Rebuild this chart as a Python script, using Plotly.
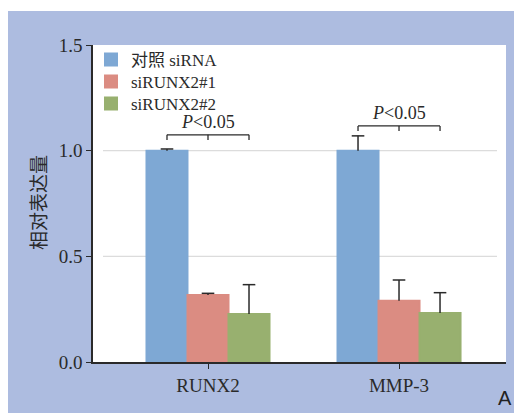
import plotly.graph_objects as go

categories = ["RUNX2", "MMP-3"]
series_names = ["对照 siRNA", "siRUNX2#1", "siRUNX2#2"]
series_values = [
    [1.0, 1.0],
    [0.317, 0.29],
    [0.227, 0.232],
]
series_err = [
    [0.008, 0.07],
    [0.008, 0.098],
    [0.139, 0.096],
]
series_colors = ["#7ea8d4", "#db8c82", "#98b06f"]
y_ticks = [0.0, 0.5, 1.0, 1.5]
sig_text = "<i>P</i>&lt;0.05"
bracket_y = [1.075, 1.117]

# page has an 8px body margin; work in page pixels, convert to figure pixels
OFF = 8
W, H = 522 - 2 * OFF, 415 - OFF
L, T = 93 - OFF, 45 - OFF
R, B = W - (506 - OFF), H - (362 - OFF)
pw, ph = W - L - R, H - T - B

def px_x(p):
    return (p - OFF - L) / pw

def px_y(p):
    return (H - B - (p - OFF)) / ph

bargap = 0.356
bar_w = (1 - bargap) / 3

legend_names = ["legend", "legend2", "legend3"]
legend_rows = [60, 82, 104]

fig = go.Figure()
for k, (name, vals, errs, col, lg) in enumerate(zip(series_names, series_values, series_err,
                                                     series_colors, legend_names)):
    fig.add_trace(go.Bar(
        x=list(range(len(categories))), y=vals, name=name, legend=lg,
        marker=dict(color=col, line=dict(width=2, color=col)),
        error_y=dict(type="data", array=errs, arrayminus=[0] * len(errs),
                     symmetric=False, color="#2a2a2a", thickness=1.5, width=0),
    ))
    # upper caps of the error bars
    xs = [i + (k - 1) * bar_w for i in range(len(categories))]
    fig.add_trace(go.Scatter(
        x=xs, y=[v + e for v, e in zip(vals, errs)], mode="markers", showlegend=False,
        hoverinfo="skip",
        marker=dict(symbol="line-ew", size=9, line=dict(color="#2a2a2a", width=1.5)),
    ))

shapes = [
    dict(type="rect", xref="paper", yref="paper", x0=px_x(8), x1=px_x(540),
         y0=px_y(413), y1=px_y(11), fillcolor="#adbce0", line=dict(width=0), layer="below"),
    dict(type="rect", xref="paper", yref="paper", x0=0, x1=1, y0=0, y1=1,
         fillcolor="white", line=dict(width=0), layer="below"),
]
for g in [0.5, 1.0]:
    shapes.append(dict(type="line", xref="paper", yref="y", x0=px_x(103), x1=px_x(497),
                       y0=g, y1=g, line=dict(color="#dcdcdc", width=1.2), layer="below"))

annotations = []
for i, by in enumerate(bracket_y):
    xl, xc, xr = i - bar_w, i, i + bar_w
    tick = 0.024
    shapes.append(dict(type="line", xref="x", yref="y", x0=xl, x1=xr, y0=by, y1=by,
                       line=dict(color="#2a2a2a", width=1.3)))
    for xx in (xl, xc, xr):
        shapes.append(dict(type="line", xref="x", yref="y", x0=xx, x1=xx, y0=by, y1=by - tick,
                           line=dict(color="#2a2a2a", width=1.3)))
    annotations.append(dict(x=xc, y=by, xref="x", yref="y", text=sig_text, showarrow=False,
                            yanchor="bottom", yshift=1,
                            font=dict(family="Liberation Serif", size=18, color="#2a2a2a")))

annotations.append(dict(x=px_x(37), y=px_y(203), xref="paper", yref="paper", text="相对表达量",
                        textangle=-90, showarrow=False, xanchor="center", yanchor="middle",
                        font=dict(family="Noto Sans CJK SC", size=19, color="#2a2a2a")))
annotations.append(dict(x=px_x(514), y=px_y(411), xref="paper", yref="paper", text="A",
                        showarrow=False, xanchor="right", yanchor="bottom",
                        font=dict(family="Liberation Sans", size=20, color="#222222")))

legend_font = dict(family="Liberation Serif, Noto Sans CJK SC", size=17, color="#2a2a2a")
layout_legends = {}
for lg, row in zip(legend_names, legend_rows):
    layout_legends[lg] = dict(x=px_x(91), y=px_y(row), xanchor="left", yanchor="middle",
                              bgcolor="rgba(0,0,0,0)", font=legend_font, itemwidth=30)

fig.update_layout(
    width=W, height=H, margin=dict(l=L, r=R, t=T, b=B, pad=0),
    paper_bgcolor="white", plot_bgcolor="white",
    barmode="group", bargap=bargap, bargroupgap=0,
    showlegend=True,
    shapes=shapes, annotations=annotations,
    font=dict(family="Liberation Serif", color="#2a2a2a"),
    **layout_legends,
)
fig.update_xaxes(
    range=[-0.602, 1.56], tickmode="array", tickvals=list(range(len(categories))),
    ticktext=categories, showline=True, linecolor="#2a2a2a", linewidth=1.5,
    ticks="outside", ticklen=5, tickcolor="#2a2a2a", tickwidth=1.3,
    showgrid=False, zeroline=False, tickfont=dict(family="Liberation Serif", size=19, color="#2a2a2a"),
)
fig.update_yaxes(
    range=[0, 1.5], tickmode="array", tickvals=y_ticks, ticktext=[f"{v:.1f}" for v in y_ticks],
    showline=True, linecolor="#2a2a2a", linewidth=1.5,
    ticks="outside", ticklen=5, tickcolor="#2a2a2a", tickwidth=1.3,
    showgrid=False, zeroline=False, tickfont=dict(family="Liberation Serif", size=19, color="#2a2a2a"),
)

fig.write_html("out.html")
